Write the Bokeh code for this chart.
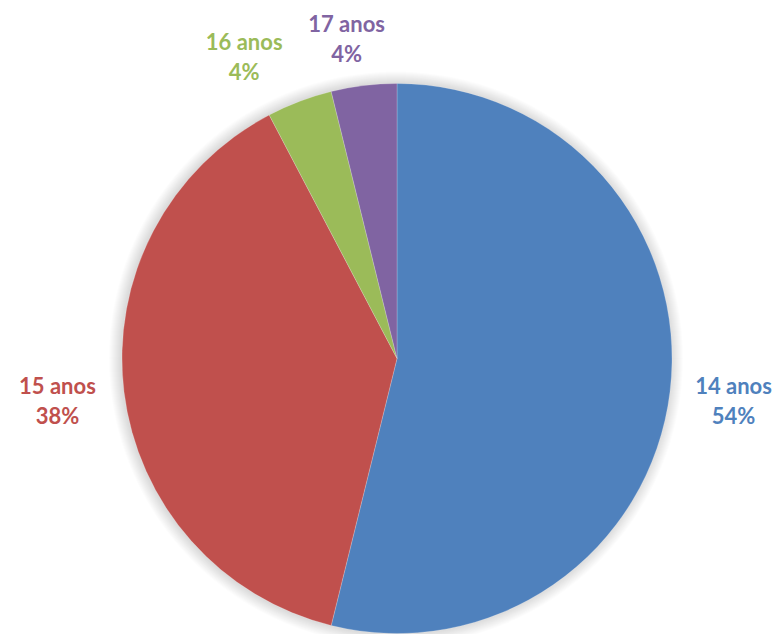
import math
from bokeh.plotting import figure
from bokeh.models import ColumnDataSource, Range1d
from bokeh.core.properties import value
from bokeh.embed import file_html
from bokeh.resources import INLINE

# Data
categories = ["14 anos", "15 anos", "16 anos", "17 anos"]
counts = [14, 10, 1, 1]
colors = ["#4F81BD", "#C0504D", "#9BBB59", "#8064A2"]

# Layout (pixels)
W, H = 780, 634
CX, CY = 396.5, 358.0   # pie centre in pixels from top-left
R_PX = 275.0
S = R_PX  # pixels per data unit

total = sum(counts)
fracs = [c / total for c in counts]
starts, ends, mids = [], [], []
cum = 0.0
for f in fracs:
    starts.append(math.pi / 2 - cum * 2 * math.pi)
    mids.append(math.pi / 2 - (cum + f / 2) * 2 * math.pi)
    cum += f
    ends.append(math.pi / 2 - cum * 2 * math.pi)
pct = ["{:.0f}%".format(f * 100) for f in fracs]

p = figure(width=W, height=H, output_backend="svg", toolbar_location=None,
           x_range=Range1d(-CX / S, (W - CX) / S),
           y_range=Range1d(-(H - CY) / S, CY / S),
           min_border=0, outline_line_color=None)
p.axis.visible = False
p.grid.visible = False
p.background_fill_color = "white"
p.border_fill_color = "white"

# soft shadow / glow around the pie
for k in range(12, 0, -1):
    p.circle(x=[-1.0 / S], y=[0], radius=1 + k / S, fill_color="#000000",
             fill_alpha=0.013, line_color=None)

src = ColumnDataSource(dict(start=starts, end=ends, color=colors))
p.wedge(x=0, y=0, radius=1, start_angle="start", end_angle="end",
        direction="clock", fill_color="color", line_color="white",
        line_alpha=0.35, line_width=0.6, source=src)

# label placement: anchor just outside the edge, box pushed outward
box_w, box_h = 88 / S, 58 / S
gap = 1 + 16 / S
nudge_px = [(4, 3), (-7, 3), (-34, -3), (-10, -2)]
lx, ly = [], []
for m, (nx, ny) in zip(mids, nudge_px):
    ux, uy = math.cos(m), math.sin(m)
    lx.append(gap * ux + ux * box_w / 2 + nx / S)
    ly.append(gap * uy + uy * box_h / 2 - ny / S)

lsrc = ColumnDataSource(dict(x=lx, y=ly, name=categories, pct=pct, color=colors))
font = value("Lato")
p.text(x="x", y="y", text="name", source=lsrc, text_color="color",
       text_font=font, text_font_style="bold", text_font_size="22px",
       text_align="center", text_baseline="middle", y_offset=-15)
p.text(x="x", y="y", text="pct", source=lsrc, text_color="color",
       text_font=font, text_font_style="bold", text_font_size="22px",
       text_align="center", text_baseline="middle", y_offset=15)

open("out.html", "w").write(file_html(p, INLINE))
